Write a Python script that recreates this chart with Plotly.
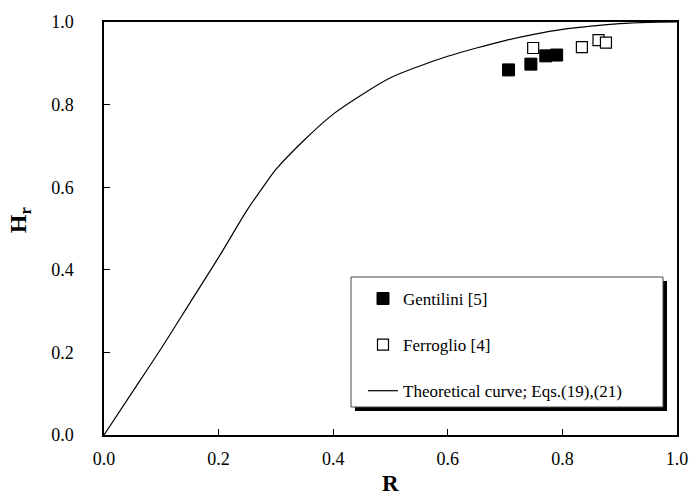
import plotly.graph_objects as go

# Data
gentilini_R = [0.706, 0.745, 0.771, 0.790]
gentilini_H = [0.884, 0.898, 0.918, 0.920]

ferroglio_R = [0.749, 0.834, 0.863, 0.876]
ferroglio_H = [0.937, 0.939, 0.956, 0.950]

theory_R = [0.0, 0.05, 0.10, 0.15, 0.20, 0.25, 0.28, 0.30, 0.35, 0.40, 0.45,
            0.50, 0.55, 0.60, 0.65, 0.70, 0.75, 0.80, 0.85, 0.90, 0.95, 1.0]
theory_H = [0.0, 0.105, 0.21, 0.32, 0.43, 0.545, 0.605, 0.643, 0.715, 0.777, 0.824,
            0.865, 0.893, 0.917, 0.937, 0.955, 0.970, 0.982, 0.990, 0.996, 0.999, 1.0]

tick_vals = [0.0, 0.2, 0.4, 0.6, 0.8, 1.0]
tick_text = ["0.0", "0.2", "0.4", "0.6", "0.8", "1.0"]

FONT = "Liberation Serif"

fig = go.Figure()
fig.add_trace(go.Scatter(
    x=gentilini_R, y=gentilini_H, mode="markers", name="Gentilini [5]",
    legendgroup="g1",
    marker=dict(symbol="square", size=12, color="black",
                line=dict(color="black", width=1)),
))
fig.add_trace(go.Scatter(
    x=ferroglio_R, y=ferroglio_H, mode="markers", name="Ferroglio [4]",
    legendgroup="g2",
    marker=dict(symbol="square", size=11, color="white",
                line=dict(color="black", width=1.2)),
))
fig.add_trace(go.Scatter(
    x=theory_R, y=theory_H, mode="lines", name="Theoretical curve; Eqs.(19),(21)",
    legendgroup="g3", line=dict(color="black", width=1.2, shape="spline", smoothing=0.8),
))

PLOT_W = 690 - 104 - 13
PLOT_H = 498 - 22 - 63

# legend box with shadow (pixel positions converted to paper fractions)
lx0 = (351 - 104) / PLOT_W
lx1 = (663 - 104) / PLOT_W
ly0 = (435 - 407) / PLOT_H
ly1 = (435 - 277) / PLOT_H
px = 1 / PLOT_W
py = 1 / PLOT_H
fig.add_shape(type="rect", xref="paper", yref="paper",
              x0=lx0 + 4 * px, x1=lx1 + 4 * px, y0=ly0 - 4 * py, y1=ly1 - 4 * py,
              fillcolor="black", line=dict(width=0), layer="above")
fig.add_shape(type="rect", xref="paper", yref="paper",
              x0=lx0, x1=lx1, y0=ly0, y1=ly1,
              fillcolor="white", line=dict(color="#444", width=1), layer="above")

fig.add_annotation(text="<b>R</b>", xref="paper", yref="paper", x=0.5, y=0,
                   yshift=-63, yanchor="bottom", showarrow=False,
                   font=dict(family=FONT, size=23, color="black"))
fig.add_annotation(text="<b>H<sub>r</sub></b>", xref="paper", yref="paper",
                   x=0, xshift=-84, y=0.52, textangle=-90, showarrow=False,
                   xanchor="center", yanchor="middle",
                   font=dict(family=FONT, size=24, color="black"))

axis_common = dict(
    range=[0, 1], tickvals=tick_vals, ticktext=tick_text,
    ticks="inside", ticklen=6, tickwidth=1, tickcolor="black",
    showline=True, linecolor="black", linewidth=1.5, mirror=True,
    showgrid=False, zeroline=False, automargin=False,
    ticklabeloverflow="allow",
    tickfont=dict(family=FONT, size=18, color="black"),
)

fig.update_layout(
    width=690, height=498,
    margin=dict(l=104, r=13, t=22, b=63),
    plot_bgcolor="white", paper_bgcolor="white",
    font=dict(family=FONT, color="black"),
    xaxis=dict(**axis_common, ticklabelstandoff=7),
    yaxis=dict(**axis_common, ticklabelstandoff=25),
    showlegend=True,
    legend=dict(x=(363 - 104) / PLOT_W, y=0.373, xanchor="left", yanchor="top",
                bgcolor="rgba(0,0,0,0)", borderwidth=0,
                tracegroupgap=21, traceorder="grouped",
                font=dict(family=FONT, size=17, color="black")),
)

fig.write_html("out.html")
